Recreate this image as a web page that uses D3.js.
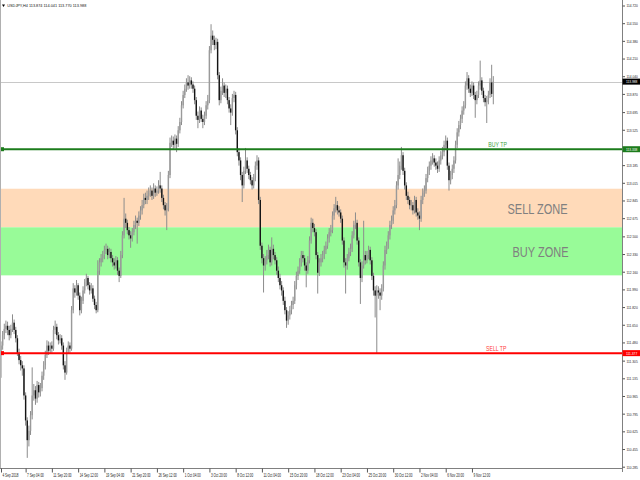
<!DOCTYPE html>
<html><head><meta charset="utf-8">
<script src="https://cdn.jsdelivr.net/npm/d3@7"></script>
<style>html,body{margin:0;padding:0;background:#fff;}svg{display:block;font-family:"Liberation Sans",Arial,sans-serif;}</style>
</head><body><svg id="c" width="640" height="480"></svg>
<script>
const headerText = "USDJPY,H4 113.874 114.041 113.770 113.988";
const opens = [111.40,
111.45,111.55,111.61,111.64,111.60,111.55,111.61,111.67,111.60,111.52,
111.38,111.31,111.26,111.23,110.97,110.73,110.54,110.63,110.78,110.97,
111.02,110.94,111.07,111.00,111.04,111.16,111.26,111.36,111.45,111.40,
111.45,111.42,111.60,111.63,111.55,111.50,111.52,111.45,111.26,111.19,
111.40,111.45,111.42,111.79,112.00,111.96,112.03,111.93,111.79,111.88,
111.98,112.06,112.10,112.03,111.98,112.00,111.90,111.84,111.79,112.17,
112.25,112.29,112.32,112.37,112.38,112.32,112.35,112.29,112.25,112.22,
112.27,112.17,112.12,112.32,112.51,112.67,112.63,112.56,112.51,112.48,
112.54,112.61,112.65,112.63,112.70,112.75,112.80,112.87,112.85,112.89,
112.92,112.94,112.89,112.96,112.92,112.94,112.99,112.96,112.87,112.80,
112.75,112.77,113.09,113.40,113.42,113.38,113.44,113.39,113.52,113.60,
113.76,113.86,113.92,113.98,113.95,114.00,113.96,113.92,113.81,113.66,
113.62,113.71,113.63,113.60,113.66,113.76,113.81,114.29,114.43,114.39,
114.34,114.37,114.05,113.81,113.90,113.95,113.88,113.92,113.81,113.73,
113.69,113.83,113.86,113.52,113.31,113.23,113.09,112.99,113.13,113.23,
113.15,113.09,113.04,112.99,113.06,113.18,113.23,112.85,112.41,112.29,
112.22,112.27,112.32,112.37,112.25,112.38,112.32,112.27,112.17,112.10,
112.03,111.98,111.88,111.79,111.69,111.74,111.79,111.84,111.88,112.03,
112.12,112.17,112.25,112.32,112.29,112.22,112.17,112.27,112.46,112.63,
112.58,112.54,112.32,112.15,112.25,112.29,112.32,112.37,112.41,112.48,
112.54,112.56,112.70,112.77,112.80,112.75,112.73,112.67,112.46,112.25,
112.22,112.29,112.35,112.38,112.51,112.61,112.63,112.46,112.25,112.10,
112.22,112.32,112.27,112.32,112.37,112.27,112.12,111.98,111.93,111.98,
111.96,111.93,112.00,112.22,112.37,112.41,112.51,112.61,112.65,112.75,
112.80,112.99,113.09,113.18,113.28,113.13,112.99,112.89,112.85,112.80,
112.80,112.75,112.85,112.73,112.70,112.67,112.85,112.92,112.94,113.06,
113.13,113.18,113.23,113.25,113.21,113.18,113.15,113.23,113.28,113.31,
113.38,113.42,113.18,113.04,113.09,113.15,113.23,113.38,113.50,113.57,
113.63,113.71,113.76,113.95,114.02,113.92,113.88,113.95,113.86,113.81,
113.86,113.95,114.00,113.90,113.83,113.79,113.81,113.86,113.98,
113.874];
const highs = [
111.49,111.59,111.66,111.69,111.68,111.64,111.65,111.75,111.70,111.63,
111.55,111.42,111.35,111.30,111.26,111.00,110.76,110.68,110.82,111.24,
111.08,111.06,111.11,111.10,111.09,111.20,111.30,111.40,111.50,111.49,
111.48,111.49,111.64,111.69,111.66,111.58,111.56,111.55,111.48,111.30,
111.43,111.49,111.48,111.83,112.05,112.03,112.08,112.05,111.96,111.92,
112.02,112.09,112.14,112.12,112.06,112.05,112.03,111.93,111.87,112.27,
112.29,112.33,112.36,112.41,112.43,112.41,112.39,112.38,112.32,112.29,
112.31,112.30,112.20,112.36,112.55,112.87,112.72,112.66,112.59,112.55,
112.58,112.65,112.70,112.68,112.74,112.79,112.85,112.91,112.92,112.94,
112.97,112.99,112.97,113.01,112.99,112.98,113.04,113.12,112.99,112.90,
112.83,112.82,113.13,113.45,113.47,113.46,113.48,113.47,113.56,113.64,
113.80,113.90,113.96,114.02,114.05,114.04,114.03,113.99,113.95,113.84,
113.70,113.75,113.74,113.67,113.70,113.80,113.86,114.33,114.54,114.48,
114.43,114.41,114.40,114.08,113.94,114.02,113.98,113.96,113.95,113.84,
113.77,113.87,113.90,113.89,113.55,113.35,113.26,113.12,113.17,113.35,
113.26,113.18,113.12,113.07,113.10,113.22,113.28,113.26,112.88,112.44,
112.33,112.31,112.37,112.42,112.40,112.49,112.42,112.35,112.30,112.21,
112.14,112.07,112.01,111.92,111.82,111.78,111.83,111.88,111.92,112.07,
112.16,112.21,112.29,112.36,112.36,112.32,112.25,112.31,112.50,112.68,
112.67,112.62,112.57,112.35,112.29,112.33,112.36,112.41,112.45,112.52,
112.58,112.61,112.74,112.81,112.88,112.84,112.79,112.76,112.70,112.49,
112.29,112.33,112.39,112.43,112.55,112.65,112.73,112.66,112.49,112.28,
112.26,112.65,112.36,112.36,112.41,112.40,112.30,112.15,112.02,112.03,
112.02,112.00,112.04,112.26,112.41,112.45,112.55,112.65,112.70,112.79,
112.85,113.03,113.25,113.22,113.36,113.31,113.16,113.02,112.93,112.88,
112.85,112.83,112.89,112.88,112.77,112.74,112.89,112.96,112.99,113.10,
113.17,113.22,113.27,113.30,113.28,113.25,113.22,113.27,113.32,113.36,
113.42,113.47,113.45,113.21,113.13,113.19,113.27,113.42,113.54,113.61,
113.67,113.75,113.80,113.99,114.08,114.05,113.96,113.99,113.98,113.89,
113.90,113.99,114.19,114.03,113.93,113.86,113.85,113.90,114.02,114.15,
114.041];
const lows = [
111.14,111.41,111.51,111.57,111.55,111.50,111.52,111.58,111.56,111.48,
111.35,111.27,111.21,111.16,110.93,110.68,110.37,110.48,110.59,110.74,
110.92,110.88,110.90,110.95,110.96,111.01,111.12,111.22,111.33,111.36,
111.37,111.38,111.40,111.56,111.51,111.46,111.47,111.41,111.22,111.12,
111.17,111.37,111.38,111.40,111.76,111.91,111.93,111.89,111.74,111.76,
111.85,111.95,112.02,111.99,111.94,111.95,111.87,111.80,111.76,111.77,
112.13,112.21,112.25,112.28,112.33,112.28,112.29,112.25,112.21,112.18,
112.19,112.13,112.06,112.10,112.29,112.48,112.58,112.52,112.47,112.39,
112.45,112.51,112.57,112.43,112.60,112.66,112.71,112.77,112.81,112.81,
112.85,112.88,112.85,112.86,112.88,112.89,112.91,112.92,112.83,112.76,
112.70,112.56,112.74,113.06,113.36,113.34,113.35,113.31,113.36,113.49,
113.57,113.73,113.83,113.89,113.91,113.92,113.92,113.88,113.77,113.62,
113.54,113.59,113.60,113.54,113.57,113.63,113.72,113.78,114.26,114.34,
114.29,114.30,114.01,113.76,113.78,113.86,113.84,113.83,113.77,113.69,
113.57,113.66,113.79,113.48,113.27,113.18,113.04,112.83,112.96,113.10,
113.11,113.05,113.00,112.95,112.96,113.03,113.14,112.81,112.37,112.24,
111.96,112.17,112.23,112.28,112.21,112.22,112.28,112.23,112.13,112.06,
111.99,111.93,111.84,111.75,111.62,111.65,111.70,111.75,111.80,111.85,
111.99,112.08,112.14,112.21,112.25,112.17,112.01,112.14,112.24,112.43,
112.54,112.50,112.28,111.95,112.12,112.21,112.25,112.28,112.33,112.38,
112.44,112.50,112.53,112.66,112.73,112.71,112.69,112.63,112.42,112.20,
111.95,112.18,112.26,112.31,112.35,112.48,112.57,112.42,112.21,111.85,
112.06,112.19,112.23,112.24,112.28,112.23,112.08,111.93,111.72,111.377,
111.90,111.79,111.89,111.97,112.18,112.33,112.38,112.47,112.57,112.62,
112.71,112.77,112.95,113.05,113.14,113.09,112.95,112.85,112.81,112.76,
112.75,112.71,112.72,112.69,112.66,112.56,112.64,112.81,112.88,112.91,
113.02,113.09,113.14,113.19,113.17,113.14,113.11,113.12,113.19,113.24,
113.27,113.34,113.14,112.94,113.00,113.05,113.11,113.20,113.35,113.46,
113.53,113.59,113.67,113.73,113.91,113.88,113.84,113.85,113.82,113.64,
113.77,113.83,113.91,113.86,113.79,113.75,113.59,113.77,113.83,113.84,
113.770];
const closes = [
111.45,111.55,111.61,111.64,111.60,111.55,111.61,111.67,111.60,111.52,
111.38,111.31,111.26,111.23,110.97,110.73,110.54,110.63,110.78,110.97,
111.02,110.94,111.07,111.00,111.04,111.16,111.26,111.36,111.45,111.40,
111.45,111.42,111.60,111.63,111.55,111.50,111.52,111.45,111.26,111.19,
111.40,111.45,111.42,111.79,112.00,111.96,112.03,111.93,111.79,111.88,
111.98,112.06,112.10,112.03,111.98,112.00,111.90,111.84,111.79,112.17,
112.25,112.29,112.32,112.37,112.38,112.32,112.35,112.29,112.25,112.22,
112.27,112.17,112.12,112.32,112.51,112.67,112.63,112.56,112.51,112.48,
112.54,112.61,112.65,112.63,112.70,112.75,112.80,112.87,112.85,112.89,
112.92,112.94,112.89,112.96,112.92,112.94,112.99,112.96,112.87,112.80,
112.75,112.77,113.09,113.40,113.42,113.38,113.44,113.39,113.52,113.60,
113.76,113.86,113.92,113.98,113.95,114.00,113.96,113.92,113.81,113.66,
113.62,113.71,113.63,113.60,113.66,113.76,113.81,114.29,114.43,114.39,
114.34,114.37,114.05,113.81,113.90,113.95,113.88,113.92,113.81,113.73,
113.69,113.83,113.86,113.52,113.31,113.23,113.09,112.99,113.13,113.23,
113.15,113.09,113.04,112.99,113.06,113.18,113.23,112.85,112.41,112.29,
112.22,112.27,112.32,112.37,112.25,112.38,112.32,112.27,112.17,112.10,
112.03,111.98,111.88,111.79,111.69,111.74,111.79,111.84,111.88,112.03,
112.12,112.17,112.25,112.32,112.29,112.22,112.17,112.27,112.46,112.63,
112.58,112.54,112.32,112.15,112.25,112.29,112.32,112.37,112.41,112.48,
112.54,112.56,112.70,112.77,112.80,112.75,112.73,112.67,112.46,112.25,
112.22,112.29,112.35,112.38,112.51,112.61,112.63,112.46,112.25,112.10,
112.22,112.32,112.27,112.32,112.37,112.27,112.12,111.98,111.93,111.98,
111.96,111.93,112.00,112.22,112.37,112.41,112.51,112.61,112.65,112.75,
112.80,112.99,113.09,113.18,113.28,113.13,112.99,112.89,112.85,112.80,
112.80,112.75,112.85,112.73,112.70,112.67,112.85,112.92,112.94,113.06,
113.13,113.18,113.23,113.25,113.21,113.18,113.15,113.23,113.28,113.31,
113.38,113.42,113.18,113.04,113.09,113.15,113.23,113.38,113.50,113.57,
113.63,113.71,113.76,113.95,114.02,113.92,113.88,113.95,113.86,113.81,
113.86,113.95,114.00,113.90,113.83,113.79,113.81,113.86,113.98,113.87,
113.988];
const xTickBars = [0,15,31,47,63,79,95,111,127,143,159,175,191,207,223,239,255,271,287];
const xTickLabels = ["4 Sep 2018","7 Sep 04:00","11 Sep 20:00","14 Sep 12:00","19 Sep 04:00","21 Sep 20:00","26 Sep 12:00","1 Oct 04:00","3 Oct 20:00","8 Oct 12:00","11 Oct 04:00","15 Oct 20:00","18 Oct 12:00","23 Oct 04:00","25 Oct 20:00","30 Oct 12:00","2 Nov 04:00","6 Nov 20:00","9 Nov 12:00"];
const yTickValues = [114.720,114.550,114.380,114.210,114.040,113.870,113.695,113.525,113.185,113.015,112.845,112.675,112.500,112.330,112.160,111.990,111.820,111.650,111.480,111.305,111.135,110.965,110.795,110.625,110.455,110.285];
const sellZone = [112.587, 112.958];
const buyZone = [112.125, 112.587];
const zoneNames = ["SELL ZONE", "BUY ZONE"];
const buyTP = 113.338, sellTP = 111.377, bidPrice = 113.988;
const tpNames = ["BUY TP", "SELL TP"];

const W = 640, H = 480, axisX = 622.5, axisY = 468.5;
const svg = d3.select("#c");
svg.append("rect").attr("width", W).attr("height", H).attr("fill", "#fff");

// squeeze text horizontally with a transform so its real box is narrow
function squeeze(sel, sx) {
  sel.each(function() {
    const t = d3.select(this);
    const tx = +t.attr("x") || 0, ty = +t.attr("y") || 0;
    t.attr("x", 0).attr("y", 0).attr("transform", `translate(${tx},${ty}) scale(${sx},1)`);
  });
}

const bars = d3.range(closes.length).map(i => ({i, o: opens[i], h: highs[i], l: lows[i], c: closes[i]}));
const x = d3.scaleLinear().domain([0, 300]).range([1, 493.3]);
const y = d3.scaleLinear().domain([110.285, 114.720]).range([466.7, 5.5]);

// zones
const zones = [
  {r: sellZone, fill: "#FFDAB9", name: zoneNames[0], tx: 507.5, sx: 0.71},
  {r: buyZone, fill: "#98FB98", name: zoneNames[1], tx: 512.5, sx: 0.71}
];
svg.append("g").selectAll("rect").data(zones).join("rect")
  .attr("x", 1).attr("width", axisX - 1)
  .attr("y", d => y(d.r[1])).attr("height", d => y(d.r[0]) - y(d.r[1]))
  .attr("fill", d => d.fill);
const zt = svg.append("g").selectAll("text").data(zones).join("text")
  .attr("x", d => d.tx).attr("y", d => (y(d.r[0]) + y(d.r[1])) / 2 + 5.5)
  .attr("font-size", 15.5).attr("fill", "#808080")
  .text(d => d.name);
squeeze(zt, 0.71);

// bid line
svg.append("line").attr("x1", 1).attr("x2", axisX).attr("y1", Math.round(y(bidPrice)) + 0.5).attr("y2", Math.round(y(bidPrice)) + 0.5)
  .attr("stroke", "#c8c8c8").attr("stroke-width", 1);

// candles
const cg = svg.append("g");
cg.selectAll("line").data(bars).join("line")
  .attr("x1", d => x(d.i)).attr("x2", d => x(d.i))
  .attr("y1", d => y(d.h)).attr("y2", d => y(d.l))
  .attr("stroke", "#8c8c8c").attr("stroke-width", 1);
cg.selectAll("rect").data(bars).join("rect")
  .attr("x", d => x(d.i) - 0.7).attr("width", 1.4)
  .attr("y", d => y(Math.max(d.o, d.c)))
  .attr("height", d => Math.max(0.8, Math.abs(y(d.o) - y(d.c))))
  .attr("fill", d => d.c >= d.o ? "#9a9a9a" : "#141414");

// TP lines
const tps = [
  {v: buyTP, col: "#1c7c1c", tcol: "#3f9f3f", name: tpNames[0], tx: 488.3},
  {v: sellTP, col: "#ff0000", tcol: "#ff3c3c", name: tpNames[1], tx: 486}
];
const tg = svg.append("g");
tg.selectAll("line").data(tps).join("line")
  .attr("x1", 0).attr("x2", axisX).attr("y1", d => y(d.v)).attr("y2", d => y(d.v))
  .attr("stroke", d => d.col).attr("stroke-width", 2);
tg.selectAll("rect").data(tps).join("rect")
  .attr("x", 0).attr("y", d => y(d.v) - 2).attr("width", 4).attr("height", 4)
  .attr("fill", d => d.col);
const tpt = tg.selectAll("text").data(tps).join("text")
  .attr("x", d => d.tx).attr("y", d => y(d.v) - 2)
  .attr("font-size", 6.5).attr("fill", d => d.tcol)
  .text(d => d.name);
squeeze(tpt, 0.8);

// frame
svg.append("line").attr("x1", 0.5).attr("x2", 0.5).attr("y1", 0).attr("y2", axisY).attr("stroke", "#b0b0b0");
svg.append("line").attr("x1", 0).attr("x2", axisX).attr("y1", axisY).attr("y2", axisY).attr("stroke", "#808080");
svg.append("line").attr("x1", axisX).attr("x2", axisX).attr("y1", 0).attr("y2", 472).attr("stroke", "#808080");

// right axis
const ya = svg.append("g").attr("transform", `translate(${axisX},0)`)
  .call(d3.axisRight(y).tickValues(yTickValues).tickFormat(d3.format(".3f")).tickSize(2.5).tickPadding(1.5));
ya.select(".domain").remove();
ya.selectAll(".tick line").attr("stroke", "#555");
const yt = ya.selectAll(".tick text").attr("font-size", 4.3).attr("fill", "#222").attr("font-family", "Liberation Sans, Arial, sans-serif");
squeeze(yt, 0.75);

// bottom axis
const xa = svg.append("g").attr("transform", `translate(0,${axisY})`)
  .call(d3.axisBottom(x).tickValues(xTickBars).tickFormat((d, i) => xTickLabels[i]).tickSize(4).tickPadding(1));
xa.select(".domain").remove();
xa.selectAll(".tick line").attr("stroke", "#555");
const xt = xa.selectAll(".tick text").attr("text-anchor", "start").attr("x", 1).attr("y", 8).attr("dy", 0)
  .attr("font-size", 4.5).attr("fill", "#222").attr("font-family", "Liberation Sans, Arial, sans-serif");
squeeze(xt, 0.69);

// price boxes
const boxes = [
  {v: bidPrice, fill: "#000"},
  {v: buyTP, fill: "#1c7c1c"},
  {v: sellTP, fill: "#ff0000"}
];
const bg = svg.append("g");
bg.selectAll("rect").data(boxes).join("rect")
  .attr("x", axisX).attr("y", d => y(d.v) - 3).attr("width", W - axisX).attr("height", 6)
  .attr("fill", d => d.fill);
const bt = bg.selectAll("text").data(boxes).join("text")
  .attr("x", 626).attr("y", d => y(d.v) + 1.6)
  .attr("font-size", 4.3).attr("fill", "#fff")
  .text(d => d3.format(".3f")(d.v));
squeeze(bt, 0.75);

// header
svg.append("path").attr("d", "M2,4.5 L5,4.5 L3.5,7 Z").attr("fill", "#000");
const ht = svg.append("text").attr("x", 7.3).attr("y", 7.4).attr("font-size", 4).attr("fill", "#111").text(headerText);
squeeze(ht, 0.96);
</script></body></html>
